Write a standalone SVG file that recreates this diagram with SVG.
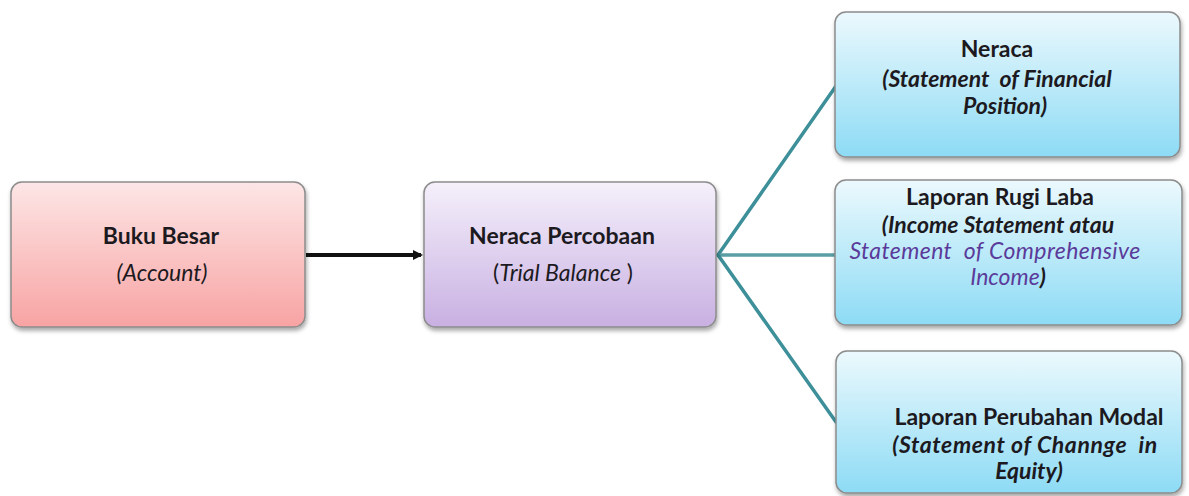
<svg xmlns="http://www.w3.org/2000/svg" width="1189" height="496" viewBox="0 0 1189 496">
<defs>
<linearGradient id="gPink" x1="0" y1="0" x2="0" y2="1">
<stop offset="0" stop-color="#fde6e6"/><stop offset="1" stop-color="#f8a3a3"/>
</linearGradient>
<linearGradient id="gPurple" x1="0" y1="0" x2="0" y2="1">
<stop offset="0" stop-color="#f5f0fb"/><stop offset="1" stop-color="#c8b0e2"/>
</linearGradient>
<linearGradient id="gBlue" x1="0" y1="0" x2="0" y2="1">
<stop offset="0" stop-color="#ecf9fd"/><stop offset="1" stop-color="#8ddbf5"/>
</linearGradient>
<filter id="shadow" x="-5%" y="-5%" width="112%" height="115%">
<feDropShadow dx="1" dy="3" stdDeviation="2" flood-color="#000" flood-opacity="0.35"/>
</filter>
<marker id="arrow" markerWidth="10" markerHeight="10" refX="8" refY="5" orient="auto" markerUnits="userSpaceOnUse">
<path d="M0,0 L10,5 L0,10 Z" fill="#111"/>
</marker>
</defs>
<style>
.box{stroke:#8c8c8c;stroke-width:1.5;filter:url(#shadow)}
text{font-family:Lato,"Open Sans","Liberation Sans",sans-serif;font-size:23px;fill:#1c1a1f;text-anchor:middle;white-space:pre}
.b{font-weight:bold}
.i{font-style:italic}
.p{fill:#5b3b9a}
.conn{stroke:#3d8f99;stroke-width:3.5;fill:none;stroke-linecap:round}
</style>
<rect width="1189" height="496" fill="#ffffff"/>
<g id="connectors">
<line x1="306" y1="255" x2="421" y2="255" stroke="#111" stroke-width="4" marker-end="url(#arrow)"/>
<line class="conn" x1="718" y1="255" x2="836" y2="86"/>
<line class="conn" x1="718" y1="255" x2="836" y2="255" stroke-width="2" style="stroke:#5b9ea5"/>
<line class="conn" x1="718" y1="255" x2="836" y2="422"/>
</g>
<g id="node-buku-besar">
<rect class="box" x="11" y="182" width="294" height="145" rx="11" fill="url(#gPink)"/>
<text x="161" y="244" class="b">Buku Besar</text>
<text x="162" y="281" class="i" font-size="24">(Account)</text>
</g>
<g id="node-neraca-percobaan">
<rect class="box" x="424" y="182" width="292" height="145" rx="11" fill="url(#gPurple)"/>
<text x="562" y="244" class="b" font-size="23.5">Neraca Percobaan</text>
<text x="563" y="281" font-size="24.5">(<tspan class="i">Trial Balance</tspan> )</text>
</g>
<g id="node-neraca">
<rect class="box" x="835" y="12" width="345" height="145" rx="11" fill="url(#gBlue)"/>
<text x="997" y="57" class="b" font-size="21.5">Neraca</text>
<text x="997" y="87" class="b i" font-size="21">(Statement  of Financial</text>
<text x="1005" y="114" class="b i" font-size="21.5">Position)</text>
</g>
<g id="node-laporan-rugi-laba">
<rect class="box" x="835" y="180" width="347" height="145" rx="11" fill="url(#gBlue)"/>
<text x="1000" y="205" class="b" font-size="24">Laporan Rugi Laba</text>
<text x="998" y="233" class="b i">(Income Statement atau</text>
<text x="995" y="259" class="i p" font-size="20" letter-spacing="0.4">Statement  of Comprehensive</text>
<text x="1008" y="285" class="i" font-size="20.5"><tspan class="p">Income</tspan><tspan font-weight="bold">)</tspan></text>
</g>
<g id="node-laporan-perubahan-modal">
<rect class="box" x="836" y="351" width="346" height="142" rx="11" fill="url(#gBlue)"/>
<text x="1029" y="425" class="b" font-size="24">Laporan Perubahan Modal</text>
<text x="1025" y="453" class="b i" font-size="22" letter-spacing="0.6">(Statement of Channge  in</text>
<text x="1029" y="479" class="b i" font-size="21.5">Equity)</text>
</g>
</svg>
